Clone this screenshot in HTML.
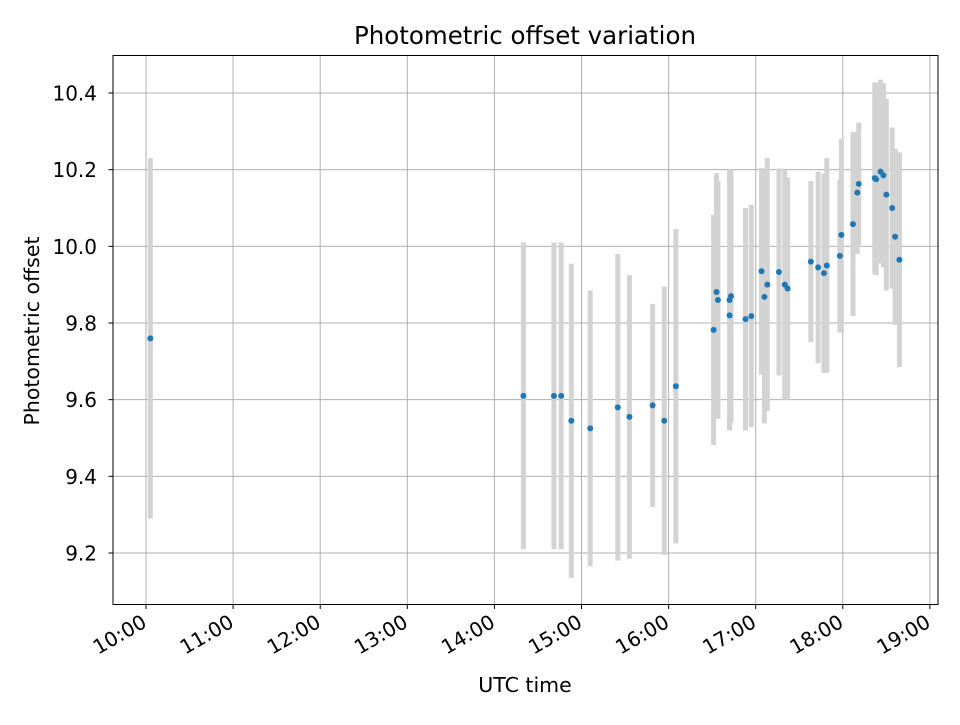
<!DOCTYPE html>
<html><head><meta charset="utf-8">
<style>
body{margin:0;background:#fff;}
svg text{font-family:"DejaVu Sans","Liberation Sans",sans-serif;fill:#000;}
</style></head>
<body>
<svg id="chart" width="960" height="720" xmlns="http://www.w3.org/2000/svg">
<rect width="960" height="720" fill="#fff"/>
<g id="grid"></g>
<g id="errs"></g>
<g id="pts"></g>
<rect x="113" y="55.5" width="825" height="549" fill="none" stroke="#000" stroke-width="1"/>
<g id="axes"></g>
<text x="525" y="44" font-size="24.5" text-anchor="middle">Photometric offset variation</text>
<text x="525" y="692" font-size="20.5" text-anchor="middle">UTC time</text>
<text transform="translate(39,331) rotate(-90)" font-size="20.5" text-anchor="middle">Photometric offset</text>
</svg>
<script>
const times = ["10:03","14:20","14:41","14:46","14:53","15:06","15:25","15:33","15:49","15:57","16:05",
"16:31","16:33","16:34","16:42","16:43","16:42","16:53","16:57","17:04","17:06","17:08","17:16","17:20","17:22",
"17:38","17:43","17:47","17:49","17:58","17:59","18:07","18:10","18:11","18:22","18:23","18:26","18:28","18:30","18:34","18:36","18:39"];
const offsets = [9.76,9.61,9.61,9.61,9.545,9.525,9.58,9.555,9.585,9.545,9.635,
9.782,9.881,9.86,9.86,9.87,9.82,9.81,9.818,9.935,9.868,9.90,9.933,9.90,9.89,
9.96,9.945,9.93,9.95,9.975,10.03,10.058,10.14,10.163,10.178,10.175,10.195,10.185,10.135,10.10,10.025,9.965];
const errors = [0.47,0.40,0.40,0.40,0.41,0.36,0.40,0.37,0.265,0.35,0.41,
0.30,0.31,0.31,0.34,0.33,0.30,0.29,0.29,0.27,0.33,0.33,0.27,0.30,0.29,
0.21,0.25,0.26,0.28,0.20,0.25,0.24,0.16,0.16,0.25,0.25,0.24,0.24,0.25,0.21,0.23,0.28];
const xTicks = ["10:00","11:00","12:00","13:00","14:00","15:00","16:00","17:00","18:00","19:00"];
const yTicks = [9.2,9.4,9.6,9.8,10.0,10.2,10.4];

const NS="http://www.w3.org/2000/svg";
function mins(s){const p=s.split(":");return +p[0]*60+ +p[1];}
function xs(m){return 146+(m-600)*(87.1/60);}
function ys(v){return 93+(10.4-v)*383.33;}
function mk(tag,attrs,parent){const e=document.createElementNS(NS,tag);for(const k in attrs)e.setAttribute(k,attrs[k]);parent.appendChild(e);return e;}
const grid=document.getElementById('grid'),axes=document.getElementById('axes'),errs=document.getElementById('errs'),pts=document.getElementById('pts');

xTicks.forEach(t=>{
  const x=xs(mins(t));
  const g=mk('line',{x1:x,x2:x,y1:55.5,y2:604.5,stroke:'#b0b0b0','stroke-width':1},grid);
  
  
  const tk=mk('line',{x1:x,x2:x,y1:604.5,y2:609,stroke:'#000','stroke-width':1},axes);
  
  
  const tx=mk('text',{x:0,y:0,'font-size':20,'text-anchor':'end',transform:`translate(${x+2},${626}) rotate(-30)`},axes);
  tx.textContent=t;
  
  
});
yTicks.forEach(v=>{
  const y=ys(v);
  const g=mk('line',{x1:113,x2:938,y1:y,y2:y,stroke:'#b0b0b0','stroke-width':1},grid);
  
  
  const tk=mk('line',{x1:108.5,x2:113,y1:y,y2:y,stroke:'#000','stroke-width':1},axes);
  
  
  const tx=mk('text',{x:97,y:y+7.5,'font-size':20,'text-anchor':'end'},axes);
  tx.textContent=v.toFixed(1);
  
  
});
times.forEach((t,i)=>{
  const x=xs(mins(t));
  const e=mk('line',{x1:x,x2:x,y1:ys(offsets[i]+errors[i]),y2:ys(offsets[i]-errors[i]),stroke:'#d3d3d3','stroke-width':5},errs);
  
  
  const c=mk('circle',{cx:x,cy:ys(offsets[i]),r:3,fill:'#1f77b4'},pts);
  
  
});
</script>
</body></html>
